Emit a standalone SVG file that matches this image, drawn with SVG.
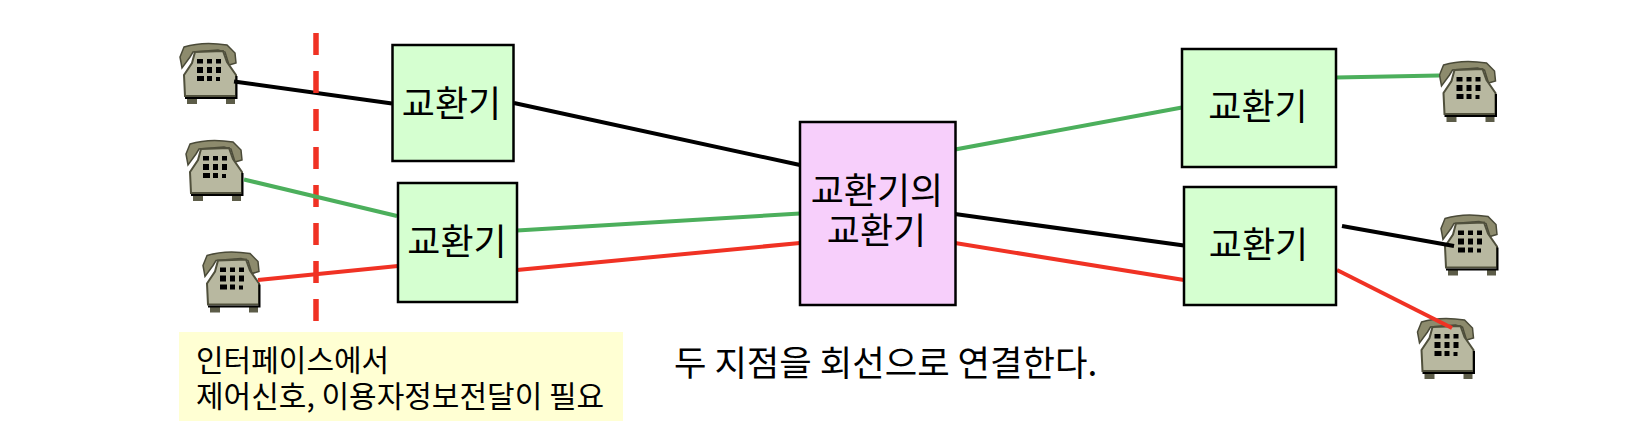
<svg xmlns="http://www.w3.org/2000/svg" width="1650" height="430" viewBox="0 0 1650 430">
<style>
.sw{fill:#d5ffd0;stroke:#000;stroke-width:2.5}
.hub{fill:#f7cffb;stroke:#000;stroke-width:2.5}
.t{font-family:"Noto Sans CJK KR","Noto Sans",sans-serif;font-size:36px;fill:#000;text-anchor:middle}
.n{font-family:"Noto Sans CJK KR","Noto Sans",sans-serif;font-size:30px;fill:#000}
.l{fill:none;stroke-width:4}
.k{stroke:#000}.g{stroke:#4caf5c}.r{stroke:#f03224}
</style>
<defs>
<g id="phone">
<path d="M0 14L4 4Q23 -2 47 2L55 10L56 20L49 22L45 9L38 7L13 9L10 14L2 25Z" fill="#8d8b6d" stroke="#4a4a38" stroke-width="1.5"/>
<rect x="7" y="55" width="10" height="6" fill="#5c5c48"/><rect x="46" y="55" width="9" height="6" fill="#5c5c48"/>
<path d="M15 9L43 8L47 19L56 32L56 53L5 53L4 32L12 20Z" fill="#b8b8a0" stroke="#50503c" stroke-width="2"/>
<path d="M5 55H56.500V33" fill="none" stroke="#000" stroke-width="2"/>
<g fill="#000"><rect x="17" y="16" width="6" height="4.500"/><rect x="27" y="16" width="5" height="4.500"/><rect x="36" y="16" width="5" height="4.500"/><rect x="17" y="24" width="6" height="6"/><rect x="27" y="24" width="5" height="6"/><rect x="36" y="24" width="5" height="6"/><rect x="17" y="33" width="7" height="5"/><rect x="27" y="33" width="5" height="5"/><rect x="36" y="34" width="4" height="4"/></g>
</g>
</defs>
<g id="p1"><use href="#phone" x="180" y="43"/></g>
<g id="p2"><use href="#phone" x="186" y="140"/></g>
<g id="p3"><use href="#phone" x="203" y="251.500"/></g>
<g id="p4"><use href="#phone" x="1439.500" y="61"/></g>
<g id="p5"><use href="#phone" x="1441" y="214.500"/></g>
<g id="p6"><use href="#phone" x="1417.500" y="318"/></g>
<g id="connectors">
<path class="l k" d="M234 81.500L392 103.500"/>
<path id="divider" d="M316 33V322" fill="none" stroke="#f03224" stroke-width="5.500" stroke-dasharray="22 16"/>
<path class="l k" d="M514 103L800 165"/>
<path class="l g" d="M244 179.500L397 216"/>
<path class="l r" d="M258 280L398 266"/>
<path class="l g" d="M517 230.500L800 213.500"/>
<path class="l r" d="M517 270L800 243"/>
<path class="l g" d="M955 149.500L1182 107.500"/>
<path class="l g" d="M1336 77.500L1439 75.500"/>
<path class="l k" d="M955 214L1184 245.500"/>
<path class="l r" d="M955 243L1184 280"/>
<path class="l k" d="M1342 226L1454 246"/>
<path class="l r" d="M1337 270L1452 328"/>
</g>
<g id="sw1"><rect class="sw" x="392.500" y="45" width="121" height="116"/><text class="t" x="451.500" y="116.500">교환기</text></g>
<g id="sw2"><rect class="sw" x="398" y="183" width="119" height="119"/><text class="t" x="457" y="254.500">교환기</text></g>
<g id="hub"><rect class="hub" x="800" y="122" width="155.500" height="183"/><text class="t" x="877" y="203.500">교환기의</text><text class="t" x="876.500" y="243.500">교환기</text></g>
<g id="sw3"><rect class="sw" x="1182" y="49" width="154" height="118"/><text class="t" x="1258" y="120">교환기</text></g>
<g id="sw4"><rect class="sw" x="1184" y="187" width="152" height="118"/><text class="t" x="1258.500" y="258">교환기</text></g>
<g id="note"><rect x="179" y="332" width="444" height="89" fill="#ffffd3"/><text class="n" x="196" y="371">인터페이스에서</text><text class="n" x="196" y="407">제어신호, 이용자정보전달이 필요</text></g>
<text id="caption" x="674" y="375.500" font-family="Noto Sans CJK KR,Noto Sans,sans-serif" font-size="35.300">두 지점을 회선으로 연결한다.</text>
</svg>
